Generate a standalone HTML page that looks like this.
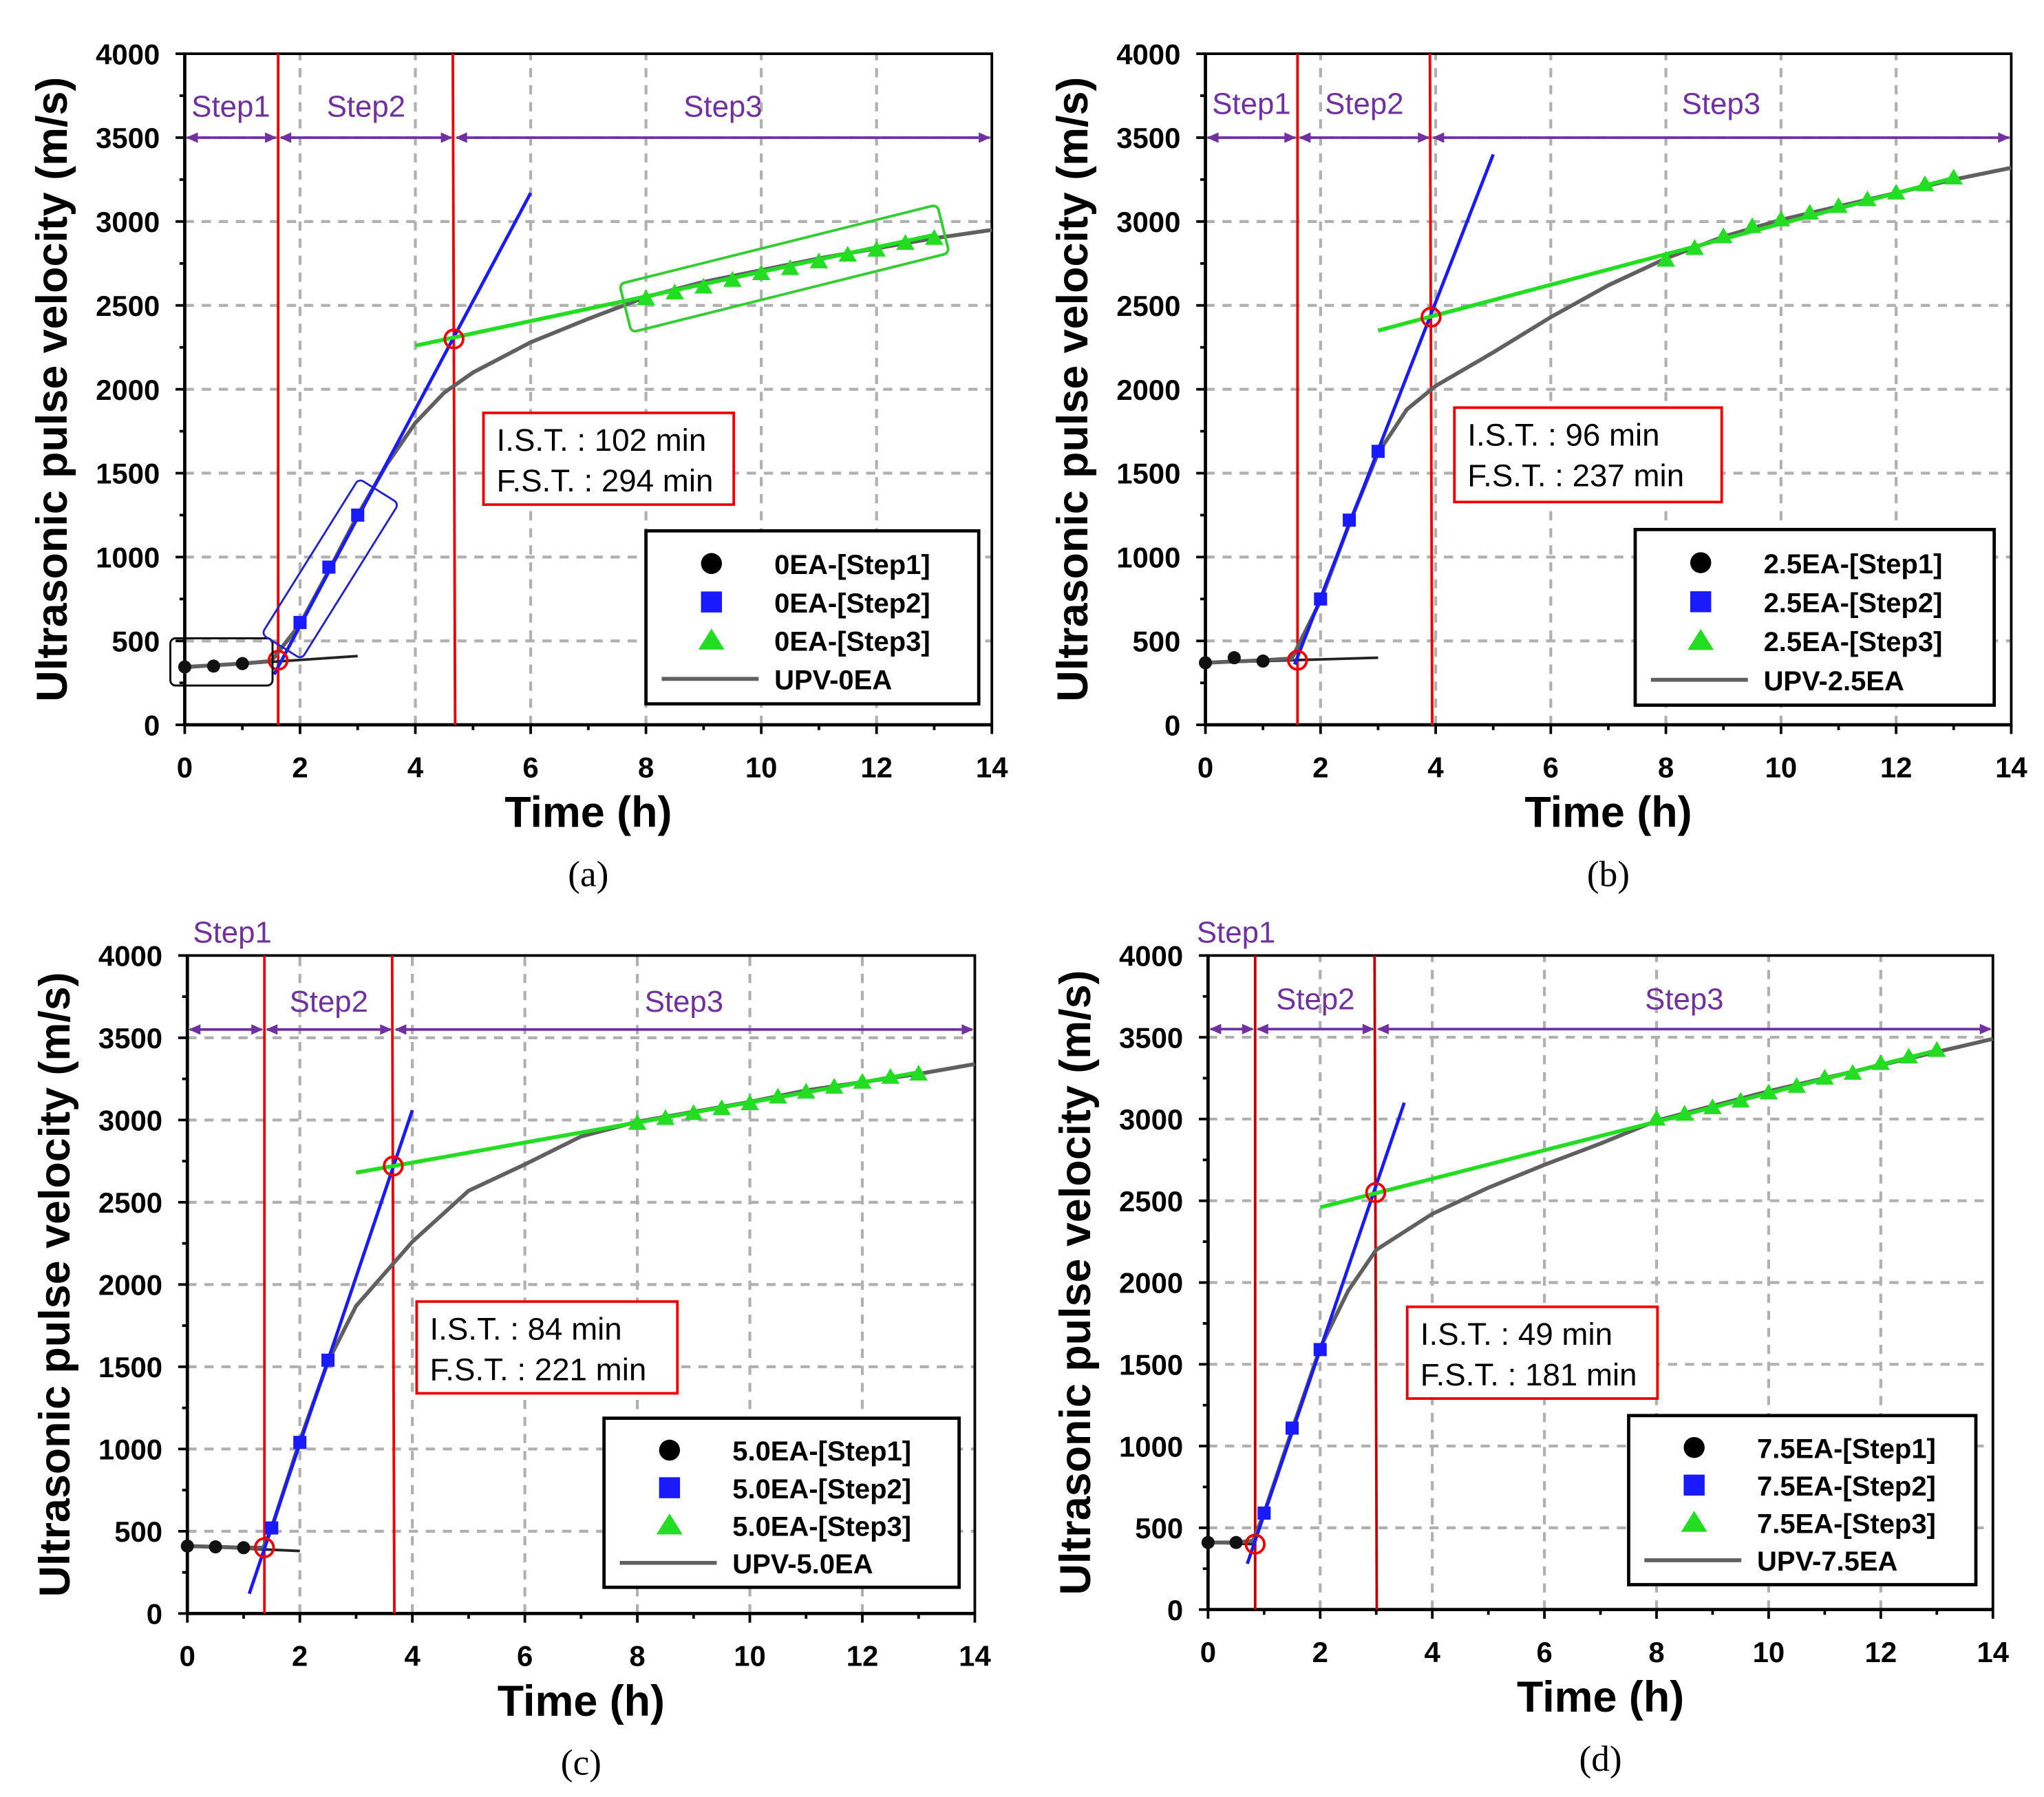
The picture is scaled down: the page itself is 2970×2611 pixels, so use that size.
<!DOCTYPE html>
<html><head><meta charset="utf-8"><style>
html,body{margin:0;padding:0;background:#fff}
svg{display:block}
</style></head><body>
<svg id="fig" width="2970" height="2611" viewBox="0 0 1560 1371" preserveAspectRatio="none" xmlns="http://www.w3.org/2000/svg" font-family="Liberation Sans, Arial, sans-serif"></svg>
<script>
// ---------- data ----------
const xTicks=[0,2,4,6,8,10,12,14];
const yTicks=[0,500,1000,1500,2000,2500,3000,3500,4000];
const step3T=[8,8.5,9,9.5,10,10.5,11,11.5,12,12.5,13];
// panel a
const aS1T=[0,0.5,1], aS1V=[345,350,365];
const aS2T=[2,2.5,3], aS2V=[610,940,1250];
const aS3V=[2540,2575,2610,2650,2690,2720,2760,2800,2830,2870,2900];
const aCurT=[0,1,1.5,2,2.5,3,3.5,4,4.5,5,6,7,8,9,10,11,12,13,14];
const aCurV=[345,365,380,600,920,1250,1550,1800,1980,2100,2280,2420,2550,2640,2710,2780,2840,2900,2950];
const aIST=102, aFST=294;
// panel b
const bS1T=[0,0.5,1], bS1V=[370,400,380];
const bS2T=[2,2.5,3], bS2V=[750,1220,1630];
const bS3V=[2770,2840,2910,2970,3010,3050,3090,3130,3170,3220,3260];
const bCurT=[0,1,1.5,2,2.5,3,3.5,4,5,6,7,8,9,10,11,12,13,14];
const bCurV=[370,385,395,740,1200,1620,1880,2020,2220,2430,2620,2780,2910,3010,3090,3170,3250,3320];
const bIST=96, bFST=237;
// panel c
const cS1T=[0,0.5,1], cS1V=[410,405,400];
const cS2T=[1.5,2,2.5], cS2V=[520,1040,1540];
const cS3V=[2980,3010,3040,3070,3100,3140,3170,3200,3230,3260,3280];
const cCurT=[0,1,1.35,1.5,2,2.5,3,4,5,6,7,8,9,10,11,12,13,14];
const cCurV=[410,400,400,520,1050,1530,1870,2260,2570,2730,2900,2990,3050,3110,3180,3230,3280,3340];
const cIST=84, cFST=221;
// panel d
const dS1T=[0,0.5], dS1V=[410,410];
const dS2T=[1,1.5,2], dS2V=[590,1110,1590];
const dS3V=[3000,3030,3070,3110,3160,3200,3250,3280,3340,3380,3420];
const dCurT=[0,0.5,0.8,1,1.5,2,2.5,3,4,5,6,7,8,9,10,11,12,13,14];
const dCurV=[410,410,420,590,1100,1600,1950,2200,2420,2580,2720,2850,2990,3080,3170,3250,3330,3410,3490];
const dIST=49, dFST=181;

const NS="http://www.w3.org/2000/svg";
const svg=document.getElementById('fig');
function el(tag,attrs,parent,txt){const e=document.createElementNS(NS,tag);for(const k in attrs)e.setAttribute(k,attrs[k]);if(txt!==undefined)e.textContent=txt;(parent||svg).appendChild(e);return e;}

function panel(P){
  const g=el('g',{});
  
  
  const X=t=>P.x0+(P.x1-P.x0)*t/14, Y=v=>P.y0+(P.y1-P.y0)*v/4000;
  xTicks.slice(1,-1).forEach(t=>{const l=el('line',{x1:X(t),x2:X(t),y1:Y(0),y2:Y(4000),stroke:'#b0b0b0','stroke-width':2.2,'stroke-dasharray':'7,6'},g);});
  yTicks.slice(1,-1).forEach(v=>{const l=el('line',{x1:X(0),x2:X(14),y1:Y(v),y2:Y(v),stroke:'#b0b0b0','stroke-width':2.2,'stroke-dasharray':'7,6'},g);});
  el('rect',{x:X(0),y:Y(4000),width:X(14)-X(0),height:Y(0)-Y(4000),fill:'none',stroke:'#000','stroke-width':2},g);
  el('line',{x1:X(0),x2:X(0),y1:Y(0),y2:Y(4000),stroke:'#000','stroke-width':2.5},g);
  el('line',{x1:X(0),x2:X(14),y1:Y(0),y2:Y(0),stroke:'#000','stroke-width':2.5},g);
  for(let t=0;t<=14;t++){el('line',{x1:X(t),x2:X(t),y1:Y(0),y2:Y(0)+(t%2?4:7),stroke:'#000','stroke-width':2},g);}
  for(let v=0;v<=4000;v+=250){el('line',{x1:X(0),x2:X(0)-(v%500?4:7),y1:Y(v),y2:Y(v),stroke:'#000','stroke-width':2},g);}
  xTicks.forEach(t=>{const tx=el('text',{x:X(t),y:Y(0)+40,'font-size':22,'font-weight':'bold','text-anchor':'middle'},g,t);});
  yTicks.forEach(v=>{const tx=el('text',{x:X(0)-19,y:Y(v)+8,'font-size':22,'font-weight':'bold','text-anchor':'end'},g,v);});
  const xt=el('text',{x:(X(0)+X(14))/2,y:Y(0)+78,'font-size':33,'font-weight':'bold','text-anchor':'middle'},g,'Time (h)');
  
  const cy=(Y(0)+Y(4000))/2;
  const yt=el('text',{x:P.x0-90,y:cy,'font-size':33,'font-weight':'bold','text-anchor':'middle',transform:`rotate(-90 ${P.x0-90} ${cy})`},g,'Ultrasonic pulse velocity (m/s)');
  
  const cap=el('text',{x:(X(0)+X(14))/2,y:Y(0)+123,'font-size':28,'text-anchor':'middle','font-family':'Liberation Serif, serif'},g,'('+P.id+')');
  
  const ist=P.lx[0], fst=P.lx[1];
  el('line',{x1:X(ist),x2:X(ist),y1:Y(4000),y2:Y(0),stroke:P.red,'stroke-width':2},g);
  el('line',{x1:X(fst-0.02),x2:X(fst+0.02),y1:Y(4000),y2:Y(0),stroke:P.red,'stroke-width':2},g);
  const ay=Y(P.arrowV);
  const arr=(a,b)=>{el('line',{x1:X(a)+2,x2:X(b)-2,y1:ay,y2:ay,stroke:'#7030a0','stroke-width':2},g);
    el('path',{d:`M${X(a)+1},${ay}l9,-4v8z M${X(b)-1},${ay}l-9,-4v8z`,fill:'#7030a0'},g);};
  arr(0,ist);arr(ist,fst);arr(fst,14);
  const lbl=(t,y,s)=>{const e=el('text',{x:X(t),y:y,'font-size':23,fill:'#7030a0','text-anchor':'middle'},g,s);};
  lbl(P.s1x,P.s1y,'Step1');lbl((ist+fst)/2,P.s2y,'Step2');lbl((fst+14)/2,P.s2y,'Step3');
  el('line',{x1:X(P.k1[0]),y1:Y(P.k1[1]),x2:X(P.k1[2]),y2:Y(P.k1[3]),stroke:'#222','stroke-width':2},g);
  const cp=P.curT.map((t,i)=>X(t)+','+Y(P.curV[i])).join(' ');
  const cl=el('polyline',{points:cp,fill:'none',stroke:'#606060','stroke-width':3},g);
  
  el('line',{x1:X(P.k2[0]),y1:Y(P.k2[1]),x2:X(P.k2[2]),y2:Y(P.k2[3]),stroke:'#1a1aff','stroke-width':2.5},g);
  el('line',{x1:X(P.k3[0]),y1:Y(P.k3[1]),x2:X(P.k3[2]),y2:Y(P.k3[3]),stroke:'#22dd22','stroke-width':3},g);
  P.s1T.forEach((t,i)=>{const c=el('circle',{cx:X(t),cy:Y(P.s1V[i]),r:5,fill:'#111'},g);});
  P.s2T.forEach((t,i)=>{const r=el('rect',{x:X(t)-5,y:Y(P.s2V[i])-5,width:10,height:10,fill:'#1a1aff'},g);});
  step3T.forEach((t,i)=>{const x=X(t),y=Y(P.s3V[i]);const p=el('path',{d:`M${x},${y-7}L${x+7},${y+5}L${x-7},${y+5}z`,fill:'#22dd22'},g);});
  el('circle',{cx:X(ist),cy:Y(P.c1),r:7,fill:'none',stroke:'#e00','stroke-width':2},g);
  el('circle',{cx:X(fst),cy:Y(P.c2),r:7,fill:'none',stroke:'#e00','stroke-width':2},g);
  const ab=P.ann;
  const an=el('g',{},g);
  el('rect',{x:ab[0],y:ab[1],width:ab[2],height:ab[3],fill:'#fff',stroke:'#e00','stroke-width':2},an);
  el('text',{x:ab[0]+10,y:ab[1]+29,'font-size':24},an,`I.S.T. : ${P.ist} min`);
  el('text',{x:ab[0]+10,y:ab[1]+60,'font-size':24},an,`F.S.T. : ${P.fst} min`);
  const L=P.leg;
  const lg=el('g',{},g);
  el('rect',{x:L[0],y:L[1],width:L[2],height:L[3],fill:'#fff',stroke:'#000','stroke-width':2.5},lg);
  const rh=L[3]/4.5, mx=L[0]+50, tx=L[0]+98;
  const nm=[P.name+'-[Step1]',P.name+'-[Step2]',P.name+'-[Step3]','UPV-'+P.name];
  nm.forEach((s,i)=>{const y=L[1]+rh*(i+0.85);
    if(i==0)el('circle',{cx:mx,cy:y,r:8,fill:'#000'},lg);
    if(i==1)el('rect',{x:mx-8,y:y-8,width:16,height:16,fill:'#1a1aff'},lg);
    if(i==2)el('path',{d:`M${mx},${y-9}L${mx+10},${y+7}L${mx-10},${y+7}z`,fill:'#22dd22'},lg);
    if(i==3)el('line',{x1:mx-38,x2:mx+36,y1:y,y2:y,stroke:'#606060','stroke-width':3},lg);
    const e=el('text',{x:tx,y:y+8,'font-size':21,'font-weight':'bold'},lg,s);
    });
  if(P.extra)P.extra(g,X,Y);
}

panel({id:'a',name:'0EA',x0:141,x1:757,y0:553,y1:41,red:'#e00',ist:aIST,fst:aFST,lx:[1.62,4.67],arrowV:3500,s1x:0.8,s1y:89,s2y:89,
  s1T:aS1T,s1V:aS1V,s2T:aS2T,s2V:aS2V,s3V:aS3V,curT:aCurT,curV:aCurV,
  k1:[0,340,3,410],k2:[1.55,300,6,3170],k3:[4,2260,13,2920],c1:385,c2:2300,
  ann:[369,315,191,70],leg:[493,405,254,132],
  extra:(g,X,Y)=>{
    el('rect',{x:130,y:487,width:78,height:36,rx:4,fill:'none',stroke:'#000','stroke-width':1.5},g);
    el('rect',{x:252-18,y:434-70,width:36,height:140,rx:4,fill:'none',stroke:'#2222cc','stroke-width':1.5,transform:`rotate(32 252 434)`},g);
    el('rect',{x:X(10.4)-125,y:Y(2720)-19,width:250,height:38,rx:4,fill:'none',stroke:'#33cc33','stroke-width':2,transform:`rotate(-14 ${X(10.4)} ${Y(2720)})`},g);
  }});
panel({id:'b',name:'2.5EA',x0:920,x1:1535,y0:553,y1:41,red:'#e00',ist:bIST,fst:bFST,lx:[1.6,3.92],arrowV:3500,s1x:0.8,s1y:87,s2y:87,
  s1T:bS1T,s1V:bS1V,s2T:bS2T,s2V:bS2V,s3V:bS3V,curT:bCurT,curV:bCurV,
  k1:[0,370,3,400],k2:[1.55,360,5,3400],k3:[3,2350,13,3260],c1:385,c2:2430,
  ann:[1110,311,204,72],leg:[1248,404,274,134]});
panel({id:'c',name:'5.0EA',x0:143,x1:744,y0:1231,y1:729,red:'#e00',ist:cIST,fst:cFST,lx:[1.37,3.66],arrowV:3550,s1x:0.8,s1y:719,s2y:772,
  s1T:cS1T,s1V:cS1V,s2T:cS2T,s2V:cS2V,s3V:cS3V,curT:cCurT,curV:cCurV,
  k1:[0,410,2,380],k2:[1.1,120,4,3060],k3:[3,2680,13,3290],c1:400,c2:2720,
  ann:[318,993,199,70],leg:[461,1082,271,129]});
panel({id:'d',name:'7.5EA',x0:922,x1:1521,y0:1228,y1:729,red:'#c00000',ist:dIST,fst:dFST,lx:[0.84,2.99],arrowV:3550,s1x:0.5,s1y:719,s2y:770,
  s1T:dS1T,s1V:dS1V,s2T:dS2T,s2V:dS2V,s3V:dS3V,curT:dCurT,curV:dCurV,
  k1:[0,410,0.8,400],k2:[0.7,280,3.5,3100],k3:[2,2460,13,3420],c1:400,c2:2550,
  ann:[1074,997,191,70],leg:[1243,1080,265,129]});
</script>
</body></html>
